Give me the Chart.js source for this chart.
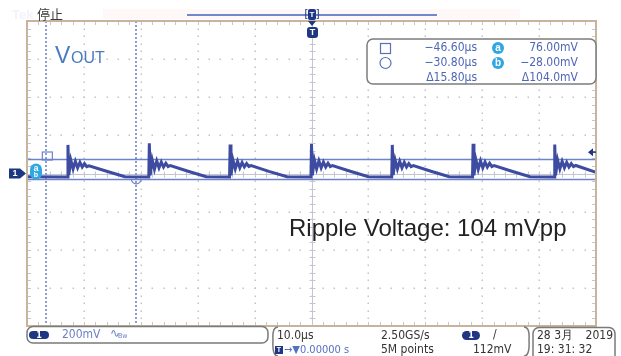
<!DOCTYPE html>
<html>
<head>
<meta charset="utf-8">
<script src="https://cdn.jsdelivr.net/npm/chart.js@4.4.0/dist/chart.umd.min.js"></script>
<style>
  html, body { margin: 0; padding: 0; background: #fff; }
  #wrap { position: relative; width: 621px; height: 356px; }
</style>
</head>
<body>
<div id="wrap"><canvas id="scope"></canvas></div>
<script>
// trace: time in µs (10 µs/div), level in mV (200 mV/div)
const timeUs = [
    -50, -42.9, -42.8, -42.65, -42.3, -41.9, -41.5, -41.1, -40.7, -40.3, -39.9, -39.5, -39.1, -36.0, -32.8,
    -28.6, -28.5, -28.35, -28.0, -27.6, -27.2, -26.8, -26.4, -26.0, -25.6, -25.2, -24.8, -21.7, -18.5,
    -14.4, -14.3, -14.15, -13.8, -13.4, -13.0, -12.6, -12.2, -11.8, -11.4, -11.0, -10.6, -7.5, -4.3,
    -0.1, 0, 0.15, 0.5, 0.9, 1.3, 1.7, 2.1, 2.5, 2.9, 3.3, 3.7, 6.8, 10.0,
    14.1, 14.2, 14.35, 14.7, 15.1, 15.5, 15.9, 16.3, 16.7, 17.1, 17.5, 17.9, 21.0, 24.2,
    28.3, 28.4, 28.55, 28.9, 29.3, 29.7, 30.1, 30.5, 30.9, 31.3, 31.7, 32.1, 35.2, 38.4,
    42.65, 42.75, 42.9, 43.25, 43.65, 44.05, 44.45, 44.85, 45.25, 45.65, 46.05, 46.45, 50.0
];
const voltMv = [
    -17, -18, 150, -8, 70, 24, 64, 30, 58, 34, 52, 36, 40, 12, -17,
    -18, 158, -10, 72, 22, 66, 30, 60, 34, 54, 36, 42, 12, -17,
    -18, 152, -9, 70, 24, 64, 30, 58, 35, 52, 37, 41, 11, -17,
    -18, 155, -10, 72, 24, 66, 30, 60, 34, 54, 36, 42, 12, -17,
    -18, 150, -8, 70, 24, 64, 30, 58, 34, 52, 36, 41, 12, -17,
    -18, 156, -10, 72, 22, 66, 30, 60, 34, 54, 36, 42, 12, -17,
    -18, 152, -9, 70, 24, 64, 30, 58, 34, 52, 36, 42, 6
];

const xDivs = [-50, -40, -30, -20, -10, 0, 10, 20, 30, 40, 50];
const yDivs = [-800, -600, -400, -200, 0, 200, 400, 600, 800];
const cursorTimes = [-46.6, -30.8];
const cursorLevels = [76, -28];
const triggerLevel = 112;

const measRows = [
    ['−46.60µs', 'a', '76.00mV'],
    ['−30.80µs', 'b', '−28.00mV'],
    ['Δ15.80µs', '', 'Δ104.0mV']
];

const NARROW = "'Liberation Sans Narrow', 'DejaVu Sans Condensed', 'Liberation Sans', sans-serif";
const NAVY = '#1f3783';
const CYAN = '#2ea7e3';

function line(ctx, x1, y1, x2, y2) {
    ctx.beginPath();
    ctx.moveTo(x1, y1);
    ctx.lineTo(x2, y2);
    ctx.stroke();
}

function pill(ctx, x, y, w, h, label) {
    ctx.fillStyle = NAVY;
    ctx.beginPath();
    ctx.roundRect(x, y, w, h, h / 2);
    ctx.fill();
    ctx.fillStyle = '#fff';
    ctx.font = 'bold 9px ' + NARROW;
    ctx.textAlign = 'center';
    ctx.textBaseline = 'middle';
    ctx.fillText(label, x + w / 2, y + h / 2 + 0.5);
}

function badge(ctx, x, y, r, label) {
    ctx.fillStyle = CYAN;
    ctx.beginPath();
    ctx.arc(x, y, r, 0, Math.PI * 2);
    ctx.fill();
    ctx.fillStyle = '#fff';
    ctx.font = 'bold 10px Liberation Sans';
    ctx.textAlign = 'center';
    ctx.textBaseline = 'middle';
    ctx.fillText(label, x, y);
}

function text(ctx, str, x, y, font, color, align) {
    ctx.font = font;
    ctx.fillStyle = color;
    ctx.textAlign = align || 'left';
    ctx.textBaseline = 'middle';
    ctx.fillText(str, x, y);
}

const scopeDecor = {
    id: 'scopeDecor',
    beforeDatasetsDraw(chart) {
        const ctx = chart.ctx;
        const { left, right, top, bottom } = chart.chartArea;
        const xs = chart.scales.x, ys = chart.scales.y;
        const xMinor = (xDivs[1] - xDivs[0]) / 5;
        const yMinor = (yDivs[1] - yDivs[0]) / 5;
        ctx.save();

        // dotted graticule
        ctx.fillStyle = '#c4c4c4';
        xDivs.slice(1, -1).forEach(v => {
            const px = Math.round(xs.getPixelForValue(v));
            for (let m = yDivs[0] + yMinor; m < yDivs[yDivs.length - 1]; m += yMinor) {
                ctx.fillRect(px - 0.5, Math.round(ys.getPixelForValue(m)) - 0.5, 1.5, 1.5);
            }
        });
        yDivs.slice(1, -1).forEach(v => {
            const py = Math.round(ys.getPixelForValue(v));
            for (let m = xDivs[0] + xMinor; m < xDivs[xDivs.length - 1]; m += xMinor) {
                ctx.fillRect(Math.round(xs.getPixelForValue(m)) - 0.5, py - 0.5, 1.5, 1.5);
            }
        });

        // centre cross with minor ticks
        const cx = Math.round(xs.getPixelForValue(0)) + 0.5;
        const cy = Math.round(ys.getPixelForValue(0)) + 0.5;
        ctx.strokeStyle = '#c3c6d3';
        ctx.lineWidth = 1;
        line(ctx, cx, top, cx, bottom);
        line(ctx, left, cy, right, cy);
        for (let m = yDivs[0]; m <= yDivs[yDivs.length - 1]; m += yMinor) {
            const py = Math.round(ys.getPixelForValue(m)) + 0.5;
            line(ctx, cx - 3, py, cx + 3, py);
            line(ctx, left, py, left + 4, py);
            line(ctx, right - 4, py, right, py);
        }
        for (let m = xDivs[0]; m <= xDivs[xDivs.length - 1]; m += xMinor) {
            const px = Math.round(xs.getPixelForValue(m)) + 0.5;
            line(ctx, px, cy - 3, px, cy + 3);
            line(ctx, px, top, px, top + 4);
            line(ctx, px, bottom - 4, px, bottom);
        }

        // cursors
        ctx.strokeStyle = '#8a9cd8';
        ctx.lineWidth = 2;
        ctx.setLineDash([2, 2]);
        cursorTimes.forEach(t => {
            const px = Math.round(xs.getPixelForValue(t));
            line(ctx, px, top, px, bottom);
        });
        ctx.setLineDash([]);
        ctx.strokeStyle = '#6d84c8';
        ctx.lineWidth = 1.5;
        cursorLevels.forEach(v => {
            const py = Math.round(ys.getPixelForValue(v)) + 0.5;
            line(ctx, left, py, right, py);
        });
        ctx.restore();
    },
    afterDraw(chart) {
        const ctx = chart.ctx;
        const { left, right, top, bottom } = chart.chartArea;
        const xs = chart.scales.x, ys = chart.scales.y;
        ctx.save();

        // screen frame
        ctx.strokeStyle = '#c8b49c';
        ctx.lineWidth = 2;
        ctx.strokeRect(left, top, right - left, bottom - top);

        // top status line
        text(ctx, 'Tek', 12, 15, 'bold 13px Liberation Sans', '#f3f3f8');
        ctx.fillStyle = '#fef8f8';
        ctx.fillRect(103, 9, 417, 10);
        text(ctx, '停止', 37, 14, '13px "Noto Sans CJK SC"', '#3a3a3a');
        ctx.strokeStyle = '#7189cc';
        ctx.lineWidth = 2;
        line(ctx, 187, 15, 437, 15);
        const tx = Math.round(xs.getPixelForValue(0));
        text(ctx, '[', tx - 6, 14, '11px Liberation Sans', NAVY, 'center');
        text(ctx, ']', tx + 6, 14, '11px Liberation Sans', NAVY, 'center');
        ctx.fillStyle = NAVY;
        ctx.beginPath();
        ctx.roundRect(tx - 4, 9, 8, 11, 2);
        ctx.fill();
        text(ctx, 'T', tx, 15, 'bold 8px Liberation Sans', '#fff', 'center');

        // trigger position marker under the frame
        ctx.fillStyle = NAVY;
        ctx.beginPath();
        ctx.moveTo(tx - 4, top);
        ctx.lineTo(tx + 4, top);
        ctx.lineTo(tx, top + 5);
        ctx.closePath();
        ctx.fill();
        ctx.beginPath();
        ctx.roundRect(tx - 5, top + 6, 11, 11, 3);
        ctx.fill();
        text(ctx, 'T', tx + 0.5, top + 12, 'bold 9px Liberation Sans', '#fff', 'center');

        // channel 1 ground marker
        const gy = ys.getPixelForValue(0);
        ctx.fillStyle = NAVY;
        ctx.beginPath();
        ctx.moveTo(9, gy - 5);
        ctx.lineTo(20, gy - 5);
        ctx.lineTo(26, gy);
        ctx.lineTo(20, gy + 5);
        ctx.lineTo(9, gy + 5);
        ctx.closePath();
        ctx.fill();
        text(ctx, '1', 15, gy + 0.5, 'bold 9px Liberation Sans', '#fff', 'center');
        ctx.fillStyle = CYAN;
        ctx.beginPath();
        ctx.roundRect(30, gy - 10, 12, 16, 6);
        ctx.fill();
        text(ctx, 'a', 36, gy - 5, 'bold 9px Liberation Sans', '#fff', 'center');
        text(ctx, 'b', 36, gy + 2, 'bold 7px Liberation Sans', '#fff', 'center');

        // cursor symbols on the trace
        ctx.strokeStyle = '#6d84c8';
        ctx.lineWidth = 1.2;
        const c1x = xs.getPixelForValue(cursorTimes[0]);
        const c2x = xs.getPixelForValue(cursorTimes[1]);
        ctx.strokeRect(c1x - 4, ys.getPixelForValue(cursorLevels[0]) - 7, 10, 8);
        ctx.beginPath();
        ctx.arc(c2x, ys.getPixelForValue(cursorLevels[1]), 5, 0, Math.PI);
        ctx.stroke();

        // trigger level arrow
        const ty = ys.getPixelForValue(triggerLevel);
        ctx.fillStyle = NAVY;
        ctx.beginPath();
        ctx.moveTo(right - 8, ty);
        ctx.lineTo(right - 3, ty - 4);
        ctx.lineTo(right - 3, ty + 4);
        ctx.closePath();
        ctx.fill();
        ctx.fillRect(right - 4, ty - 0.75, 4, 1.5);

        // cursor readout box
        ctx.fillStyle = '#fff';
        ctx.strokeStyle = '#7c7c7c';
        ctx.lineWidth = 1.5;
        ctx.beginPath();
        ctx.roundRect(367, 39, 229, 45, 6);
        ctx.fill();
        ctx.stroke();
        ctx.strokeStyle = '#5a6fb8';
        ctx.lineWidth = 1.2;
        ctx.strokeRect(380.5, 43.5, 10, 10);
        ctx.beginPath();
        ctx.arc(385.5, 63, 5.5, 0, Math.PI * 2);
        ctx.stroke();
        measRows.forEach((row, i) => {
            const y = 48 + i * 15;
            text(ctx, row[0], 477, y, '12px ' + NARROW, '#4f66b5', 'right');
            if (row[1]) badge(ctx, 498, y, 6, row[1]);
            text(ctx, row[2], 578, y, '12px ' + NARROW, '#4f66b5', 'right');
        });

        // channel label
        ctx.textBaseline = 'alphabetic';
        ctx.textAlign = 'left';
        ctx.fillStyle = '#4a7bc2';
        ctx.font = '23px Liberation Sans';
        ctx.fillText('V', 55, 63);
        ctx.font = '16px Liberation Sans';
        ctx.fillText('OUT', 71, 63);

        // annotation
        ctx.fillStyle = '#222';
        ctx.font = '24px Liberation Sans';
        ctx.fillText('Ripple Voltage: 104 mVpp', 289, 236);

        // bottom status bar
        ctx.strokeStyle = '#7a7a7a';
        ctx.lineWidth = 1.5;
        ctx.beginPath();
        ctx.roundRect(27, 326.5, 241, 16.5, 6);
        ctx.stroke();
        pill(ctx, 29, 331, 20, 8, '1');
        text(ctx, '200mV', 62, 335, '12px ' + NARROW, '#6c80c6');
        text(ctx, '∿', 110, 334, '12px DejaVu Sans', '#6c80c6');
        text(ctx, 'Bw', 118, 336, '7px ' + NARROW, '#6c80c6');

        ctx.beginPath();
        ctx.moveTo(278, 327);
        ctx.quadraticCurveTo(272, 327, 273, 340);
        ctx.quadraticCurveTo(272, 356, 278, 356);
        ctx.moveTo(524, 327);
        ctx.quadraticCurveTo(530, 327, 529, 340);
        ctx.quadraticCurveTo(530, 356, 524, 356);
        ctx.stroke();
        text(ctx, '10.0µs', 277, 336, '12px ' + NARROW, '#333');
        ctx.fillStyle = NAVY;
        ctx.fillRect(275, 346, 8, 8);
        text(ctx, 'T', 279, 350.5, 'bold 7px Liberation Sans', '#fff', 'center');
        text(ctx, '→▼0.00000 s', 284, 350, '11px ' + NARROW, '#5670c0');
        text(ctx, '2.50GS/s', 381, 336, '12px ' + NARROW, '#333');
        text(ctx, '5M points', 381, 350, '12px ' + NARROW, '#333');
        pill(ctx, 462, 331, 18, 9, '1');
        text(ctx, '/', 493, 335, '12px ' + NARROW, '#333');
        text(ctx, '112mV', 473, 350, '12px ' + NARROW, '#333');

        ctx.beginPath();
        ctx.roundRect(533, 327.5, 82, 34, 6);
        ctx.stroke();
        text(ctx, '28 3月', 537, 336, '12px ' + NARROW, '#333');
        text(ctx, '2019', 613, 336, '12px ' + NARROW, '#333', 'right');
        text(ctx, '19: 31: 32', 537, 350, '12px ' + NARROW, '#333');
        ctx.restore();
    }
};

const traceData = timeUs.map((t, i) => ({ x: t, y: voltMv[i] }));

new Chart(document.getElementById('scope'), {
    type: 'line',
    data: {
        datasets: [{
            data: traceData,
            borderColor: '#3d4ca0',
            borderWidth: 3,
            pointRadius: 0,
            tension: 0
        }]
    },
    options: {
        responsive: true,
        maintainAspectRatio: false,
        animation: false,
        events: [],
        layout: { padding: { left: 27, right: 25, top: 21, bottom: 30 } },
        plugins: { legend: { display: false }, tooltip: { enabled: false } },
        scales: {
            x: { type: 'linear', min: xDivs[0], max: xDivs[xDivs.length - 1], display: false },
            y: { type: 'linear', min: yDivs[0], max: yDivs[yDivs.length - 1], display: false }
        }
    },
    plugins: [scopeDecor]
});
</script>
</body>
</html>
